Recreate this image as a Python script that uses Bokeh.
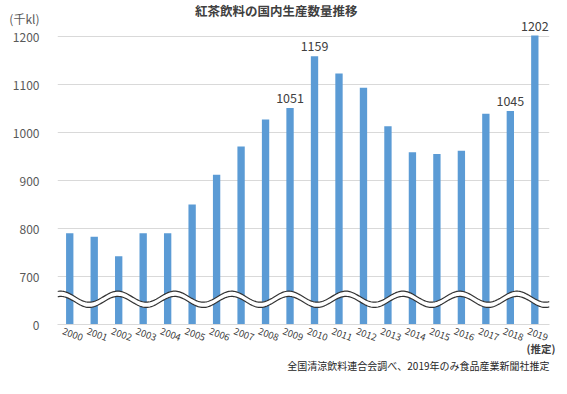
import numpy as np
from bokeh.plotting import figure
from bokeh.models import FixedTicker, Label, LabelSet, ColumnDataSource, Title
from bokeh.embed import file_html
from bokeh.resources import INLINE
from bokeh.core.properties import value

# ---- data ----
years = ["2000", "2001", "2002", "2003", "2004", "2005", "2006", "2007", "2008", "2009",
         "2010", "2011", "2012", "2013", "2014", "2015", "2016", "2017", "2018", "2019"]
production = [790, 783, 742, 790, 790, 850, 912, 971, 1027, 1051,
              1159, 1123, 1093, 1013, 959, 955, 962, 1039, 1045, 1202]
labeled_years = ["2009", "2010", "2018", "2019"]
y_tick_values = [0, 700, 800, 900, 1000, 1100, 1200]
title_text = "紅茶飲料の国内生産数量推移"
unit_text = "(千kl)"
estimate_text = "(推定)"
source_text = "全国清涼飲料連合会調べ、2019年のみ食品産業新聞社推定"

BREAK_AT = 600      # value 0 is drawn where 600 would be (broken axis)
UNIT_POS = 1237.5   # axis position of the unit caption at the top of the y axis

FONT = "Noto Sans CJK JP"
BAR = "#5B9BD5"
TXT = "#404040"

idx = list(range(len(years)))
src = ColumnDataSource(dict(x=idx, top=production, year=years))
lab_idx = [i for i, y in enumerate(years) if y in labeled_years]
lab_src = ColumnDataSource(dict(x=lab_idx, top=[production[i] for i in lab_idx],
                                lbl=[str(production[i]) for i in lab_idx]))

W, H = 567, 394
p = figure(width=W, height=H, x_range=(-0.5, 19.6), y_range=(BREAK_AT, 1275),
           output_backend="svg", toolbar_location=None,
           min_border_left=57, min_border_right=18, min_border_top=0,
           min_border_bottom=70)
p.outline_line_color = None
p.background_fill_color = "white"
p.border_fill_color = "white"

tick_pos = [BREAK_AT if v == 0 else v for v in y_tick_values]
p.yaxis.ticker = FixedTicker(ticks=tick_pos + [UNIT_POS])
p.yaxis.major_label_overrides = {BREAK_AT: "0", UNIT_POS: unit_text}
p.yaxis.axis_line_color = None
p.yaxis.major_tick_line_color = None
p.yaxis.minor_tick_line_color = None
p.yaxis.major_label_standoff = 12
p.yaxis.major_label_text_font = FONT
p.yaxis.major_label_text_font_size = "12px"
p.yaxis.major_label_text_color = "#595959"
p.ygrid.ticker = FixedTicker(ticks=tick_pos)
p.ygrid.grid_line_color = "#d9d9d9"
p.xgrid.grid_line_color = None

LABEL_SHIFT = 0.28
x_ticks = [i - LABEL_SHIFT for i in idx]
p.xaxis.ticker = FixedTicker(ticks=x_ticks)
p.xaxis.major_label_overrides = {t: y for t, y in zip(x_ticks, years)}
p.xaxis.axis_line_color = "#d9d9d9"
p.xaxis.major_tick_line_color = None
p.xaxis.minor_tick_line_color = None
p.xaxis.major_label_orientation = -0.36
p.xaxis.major_label_standoff = 0
p.xaxis.major_label_text_font = FONT
p.xaxis.major_label_text_font_size = "9.5px"
p.xaxis.major_label_text_color = TXT

p.vbar(x="x", top="top", bottom=BREAK_AT, width=0.3, source=src,
       fill_color=BAR, line_color=None)

p.add_layout(LabelSet(x="x", y="top", text="lbl", source=lab_src,
                      y_offset=5, text_align="center", text_baseline="bottom",
                      text_font=value(FONT), text_font_size="12.5px", text_color=TXT))

# wavy break marker (decoration)
wx = np.linspace(-0.5, 19.6, 400)
phase = np.cos(2 * np.pi * (wx - 1.96) / 2.33)
upper = 658 + 11.5 * phase
lower = 647 + 11.5 * phase
p.patch(np.concatenate([wx, wx[::-1]]), np.concatenate([upper, lower[::-1]]),
        fill_color="white", line_color=None)
p.line(wx, upper, line_color="#333333", line_width=1.2)
p.line(wx, lower, line_color="#333333", line_width=1.2)

# chart title inside the frame, above the bars
p.add_layout(Label(x=8.44, y=1254, text=title_text, text_align="center",
                   text_baseline="middle", text_font=FONT, text_font_size="12.5px",
                   text_color=TXT, text_font_style="bold"))

# texts under the axis as titles
p.add_layout(Title(text=estimate_text, align="right", offset=-6, text_font=FONT,
                   text_font_size="10.5px", text_color=TXT,
                   text_font_style="bold", standoff=-17), "below")
p.add_layout(Title(text=source_text, align="right", offset=0, text_font=FONT,
                   text_font_size="10px", text_color="#262626",
                   text_font_style="normal", standoff=17), "below")

open("out.html", "w").write(file_html(p, INLINE))
